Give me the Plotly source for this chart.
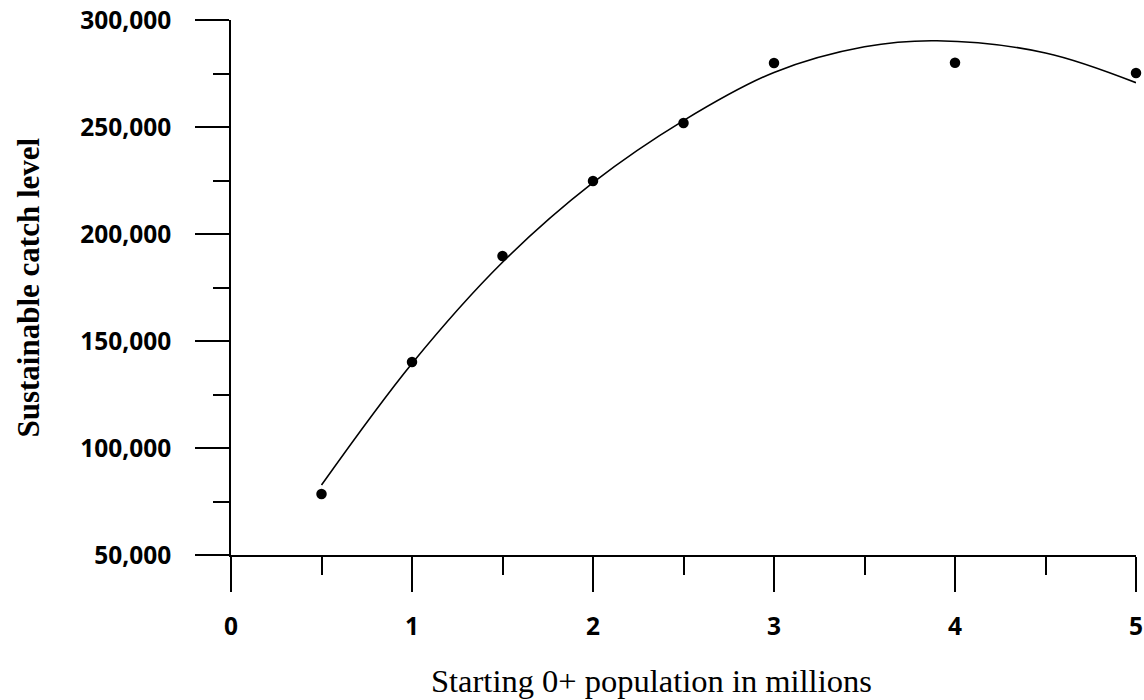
import plotly.graph_objects as go

# Observed data points
pop_millions = [0.5, 1.0, 1.5, 2.0, 2.5, 3.0, 4.0, 5.0]
catch_level = [78500, 140200, 189700, 224800, 251900, 279900, 280000, 275200]

# Fitted curve, values
curve_x = [0.5, 1.0, 1.5, 2.0, 2.5, 3.0, 3.5, 3.9, 4.5, 5.0]
curve_y = [82700, 139500, 186800, 224000, 253000, 275500, 287500, 290300, 284600, 270700]

x_tick_vals = [0, 1, 2, 3, 4, 5]
x_tick_text = ["0", "1", "2", "3", "4", "5"]
y_tick_vals = [50000, 100000, 150000, 200000, 250000, 300000]
y_tick_text = ["50,000", "100,000", "150,000", "200,000", "250,000", "300,000"]

fig = go.Figure()
fig.add_trace(go.Scatter(
    x=curve_x, y=curve_y, mode="lines",
    line=dict(color="black", width=1.6, shape="spline", smoothing=1.0),
    cliponaxis=False, showlegend=False, hoverinfo="skip"))
fig.add_trace(go.Scatter(
    x=pop_millions, y=catch_level, mode="markers",
    marker=dict(color="black", size=10.5),
    cliponaxis=False, showlegend=False))

tick_font = dict(family="Open Sans", size=24.5, color="black", weight="bold")

fig.update_layout(
    width=1144, height=700,
    margin=dict(l=231, r=8, t=20, b=145, autoexpand=False),
    paper_bgcolor="white", plot_bgcolor="white",
    xaxis=dict(
        range=[0, 5], showgrid=False, zeroline=False,
        showline=True, linecolor="black", linewidth=1.5,
        ticks="outside", ticklen=35, tickwidth=1.5, tickcolor="black",
        tickvals=x_tick_vals, ticktext=x_tick_text, tickfont=tick_font,
        ticklabelstandoff=14,
        minor=dict(dtick=0.5, tick0=0, ticks="outside", ticklen=18,
                   tickwidth=1.5, tickcolor="black", showgrid=False),
    ),
    yaxis=dict(
        range=[50000, 300000], showgrid=False, zeroline=False,
        showline=True, linecolor="black", linewidth=1.5,
        ticks="outside", ticklen=34, tickwidth=1.5, tickcolor="black",
        tickvals=y_tick_vals, ticktext=y_tick_text, tickfont=tick_font,
        ticklabelstandoff=19,
        minor=dict(dtick=25000, tick0=0, ticks="outside", ticklen=16,
                   tickwidth=1.5, tickcolor="black", showgrid=False),
    ),
    annotations=[
        dict(text="Starting 0+ population in millions", xref="paper", yref="paper",
             x=0.465, y=-0.235, xanchor="center", yanchor="middle", showarrow=False,
             font=dict(family="Liberation Serif", size=32.5, color="black")),
        dict(text="Sustainable catch level", xref="paper", yref="paper",
             x=-0.2243, y=0.5, xanchor="center", yanchor="middle", showarrow=False,
             textangle=-90,
             font=dict(family="Liberation Serif", size=31, color="black", weight="bold")),
    ],
)

fig.write_html("out.html")
